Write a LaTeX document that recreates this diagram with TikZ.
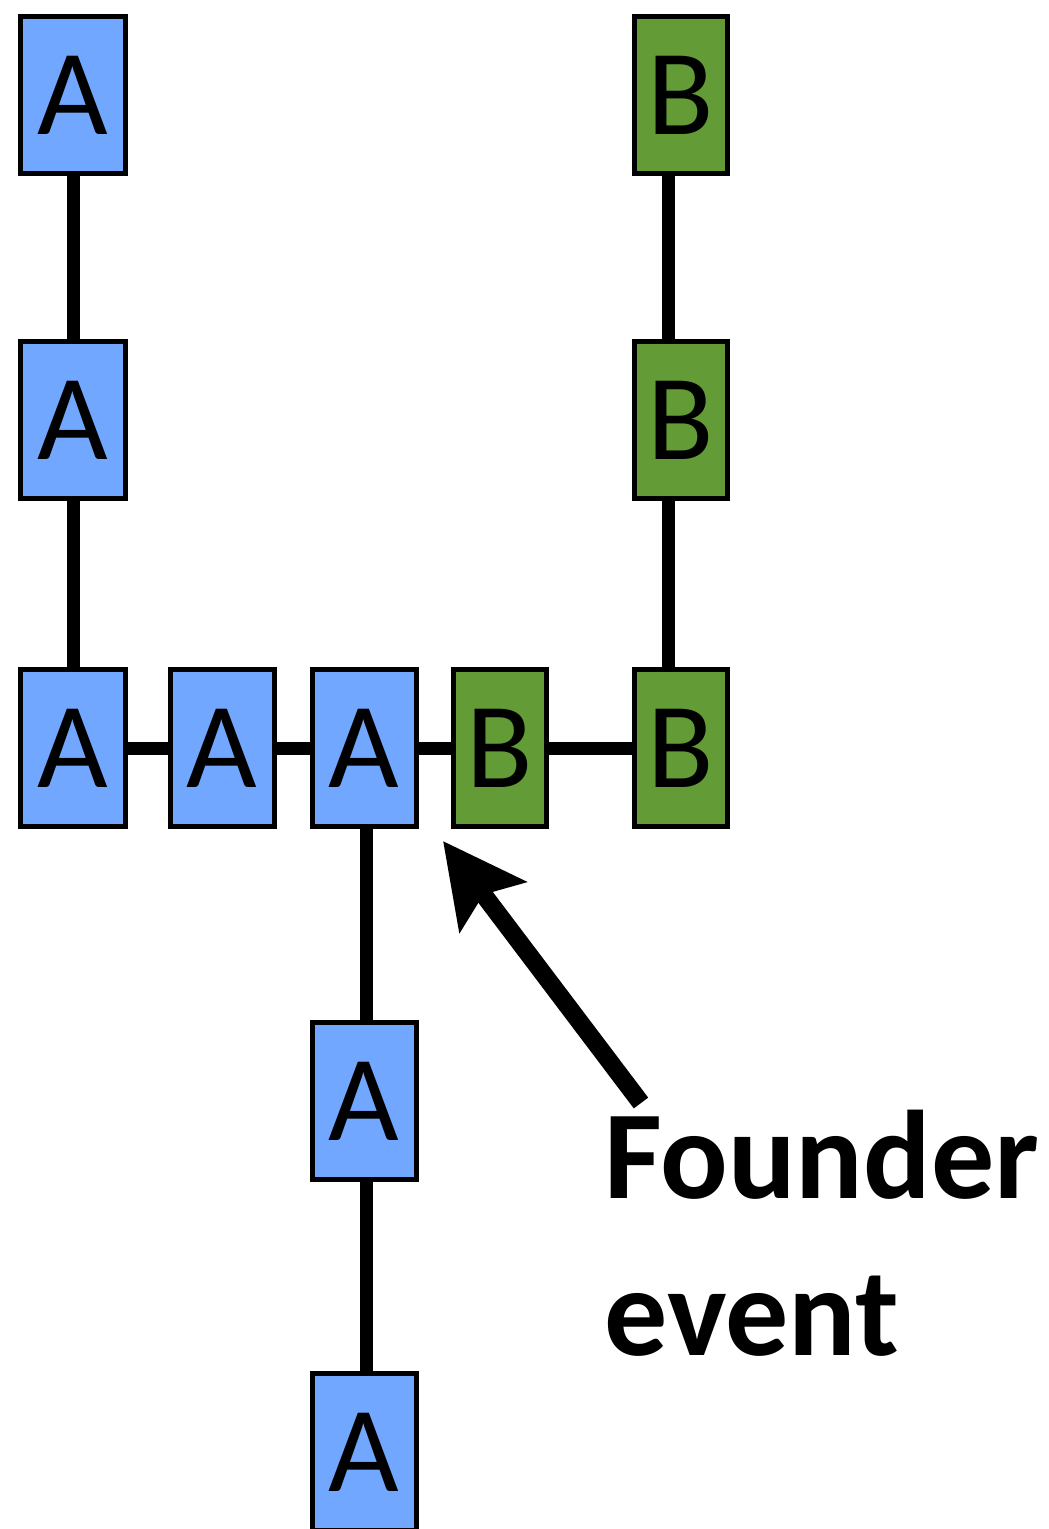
\documentclass[tikz,border=0pt]{standalone}
\usepackage{fontspec}
\setmainfont{Carlito}
\usetikzlibrary{arrows.meta}
\definecolor{bleu}{HTML}{72A7FF}
\definecolor{vert}{HTML}{639B37}
\tikzset{
    boiteA/.style={
        draw=black,
        line width=5pt,
        fill=bleu,
        minimum width=104pt,
        minimum height=157pt,
        inner sep=0pt,
        font=\fontsize{122}{122}\selectfont
    },
    boiteB/.style={
        boiteA,
        fill=vert,
        minimum width=93pt
    },
    lien/.style={
        line width=13pt
    },
    fondateur/.style={
        -{Stealth[length=82pt,width=82pt,inset=15pt]},
        line width=18pt
    },
    legende/.style={
        font=\bfseries\fontsize{126}{157}\selectfont,
        align=left,
        inner sep=0pt
    }
}

\begin{document}
\begin{tikzpicture}[x=1pt,y=-1pt]

    \useasboundingbox (0,0) rectangle (1049,1529);

    % Colonne de gauche
    \node[boiteA, minimum width=105pt] (a1) at (73,95) {A};
    \node[boiteA, minimum width=105pt] (a2) at (73,420) {A};

    % Rangée
    \node[boiteA, minimum width=105pt] (r1) at (73,748) {A};
    \node[boiteA] (r2) at (222,748) {A};
    \node[boiteA] (r3) at (364,748) {A};
    \node[boiteB] (r4) at (500,748) {B};
    \node[boiteB] (r5) at (681,748) {B};

    % Colonne B
    \node[boiteB] (b1) at (681,95) {B};
    \node[boiteB] (b2) at (681,420) {B};

    % Colonne du bas
    \node[boiteA] (c1) at (364,1101) {A};
    \node[boiteA] (c2) at (364,1452) {A};

    % Liens
    \draw[lien] (a1.south) -- (a2.north);
    \draw[lien] (a2.south) -- (r1.north);
    \draw[lien] (r1.east) -- (r2.west);
    \draw[lien] (r2.east) -- (r3.west);
    \draw[lien] (r3.east) -- (r4.west);
    \draw[lien] (r4.east) -- (r5.west);
    \draw[lien] ([xshift=-13pt]b1.south) -- ([xshift=-13pt]b2.north);
    \draw[lien] ([xshift=-13pt]b2.south) -- ([xshift=-13pt]r5.north);
    \draw[lien] ([xshift=2pt]r3.south) -- ([xshift=2pt]c1.north);
    \draw[lien] ([xshift=2pt]c1.south) -- ([xshift=2pt]c2.north);

    % Texte
    \node[legende, anchor=base west] (evt) at (604,1355) {Founder\\event};

    % Flèche
    \coordinate (queue) at (641,1103);
    \coordinate (pointe) at (443,841);
    \draw[fondateur] (queue) -- (pointe);

\end{tikzpicture}
\end{document}
